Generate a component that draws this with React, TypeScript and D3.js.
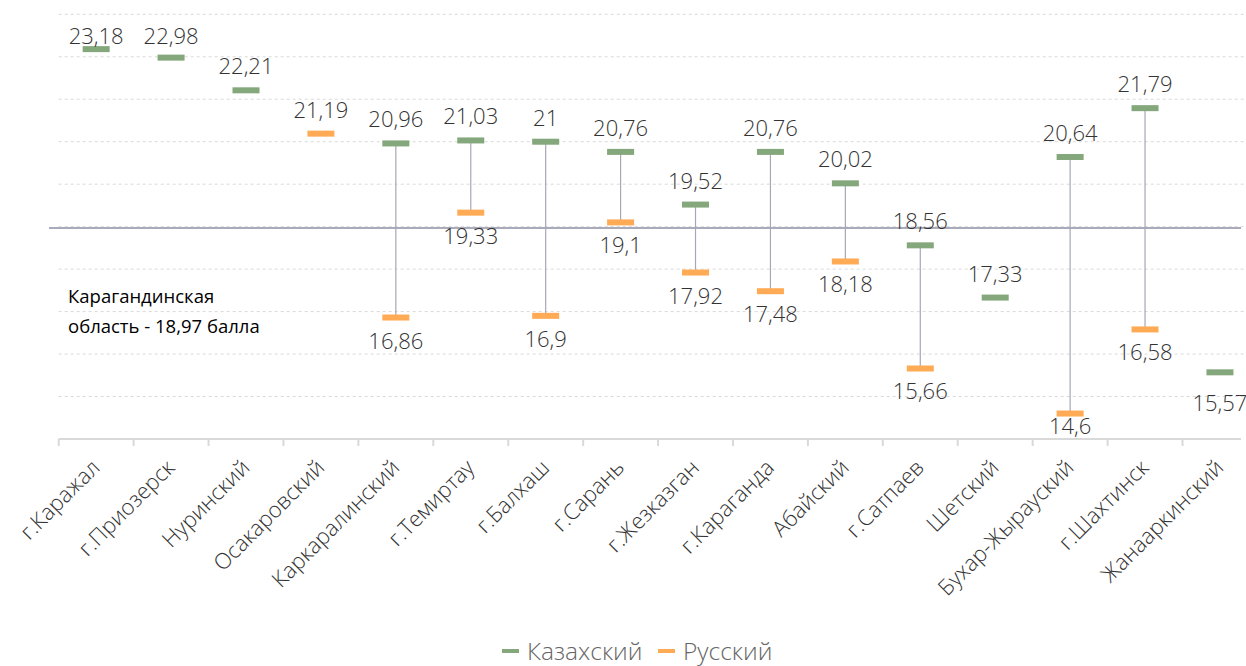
import React from "react";
import * as d3 from "d3";

const categories = [
  "г.Каражал",
  "г.Приозерск",
  "Нуринский",
  "Осакаровский",
  "Каркаралинский",
  "г.Темиртау",
  "г.Балхаш",
  "г.Сарань",
  "г.Жезказган",
  "г.Караганда",
  "Абайский",
  "г.Сатпаев",
  "Шетский",
  "Бухар-Жырауский",
  "г.Шахтинск",
  "Жанааркинский",
];

const kazakh: (number | null)[] = [
  23.18, 22.98, 22.21, null, 20.96, 21.03, 21, 20.76, 19.52, 20.76, 20.02, 18.56, 17.33, 20.64, 21.79, 15.57,
];

const russian: (number | null)[] = [
  null, null, null, 21.19, 16.86, 19.33, 16.9, 19.1, 17.92, 17.48, 18.18, 15.66, null, 14.6, 16.58, null,
];

const yTicks = [14, 15, 16, 17, 18, 19, 20, 21, 22, 23, 24];
const regionAverage = 18.97;
const annotationLines = ["Карагандинская", "область - 18,97 балла"];
const seriesNames = ["Казахский", "Русский"];
const kazakhLabelBelow = ["Жанааркинский"];

const GREEN = "#84a77b";
const ORANGE = "#ffaa55";
const FONT = "'Open Sans', 'Noto Sans', sans-serif";

export default function App() {
  const W = 1246;
  const H = 666;
  const x = d3
    .scaleBand<string>()
    .domain(categories)
    .range([58.7, 58.7 + 16 * 74.92])
    .padding(0);
  const y = d3.scaleLinear().domain([14, 24]).range([439, 14.3]);
  const fmt = (v: number) => String(v).replace(".", ",");
  const cx = (c: string) => (x(c) as number) + x.bandwidth() / 2;
  const axisEnd = 1241;

  const labelAbove = (v: number) => Math.max(y(v) - 16, 43.5);
  const labelBelow = (v: number) => Math.min(y(v) + 31, 434);

  return (
    <svg
      width={W}
      height={H}
      style={{ position: "absolute", left: 0, top: 0, background: "#fff" }}
      fontFamily={FONT}
    >
      {/* gridlines */}
      {yTicks
        .filter((t) => t !== 14)
        .map((t) => (
          <line
            key={"g" + t}
            x1={58.7}
            x2={W}
            y1={y(t)}
            y2={y(t)}
            stroke="#d9d9d9"
            strokeWidth={1}
            strokeDasharray="3,3"
          />
        ))}
      {/* x axis */}
      <line x1={58.7} x2={axisEnd} y1={y(14)} y2={y(14)} stroke="#d9d9d9" strokeWidth={2} />
      {d3.range(categories.length).map((i) => {
        const tx = x(categories[i]) as number;
        return (
          <line key={"t" + i} x1={tx} x2={tx} y1={y(14)} y2={y(14) + 7} stroke="#d9d9d9" strokeWidth={2} />
        );
      })}
      {/* reference line */}
      <line
        x1={49}
        x2={axisEnd}
        y1={y(regionAverage)}
        y2={y(regionAverage)}
        stroke="#a9abbb"
        strokeWidth={2}
      />
      {/* whiskers */}
      {categories.map((c, i) => {
        const k = kazakh[i];
        const r = russian[i];
        if (k == null || r == null) return null;
        return (
          <line key={"w" + i} x1={cx(c)} x2={cx(c)} y1={y(k)} y2={y(r)} stroke="#a5a8b5" strokeWidth={1.2} />
        );
      })}
      {/* markers */}
      {categories.map((c, i) => {
        const k = kazakh[i];
        const r = russian[i];
        return (
          <g key={"m" + i}>
            {k != null && <rect x={cx(c) - 13.5} y={y(k) - 3} width={27} height={6} fill={GREEN} />}
            {r != null && <rect x={cx(c) - 13.5} y={y(r) - 3} width={27} height={6} fill={ORANGE} />}
          </g>
        );
      })}
      {/* value labels */}
      {categories.map((c, i) => {
        const k = kazakh[i];
        const r = russian[i];
        const out: React.ReactNode[] = [];
        if (k != null) {
          const below = kazakhLabelBelow.includes(c);
          out.push(
            <text
              key="k"
              x={cx(c)}
              y={below ? labelBelow(k) + 8 : labelAbove(k)}
              textAnchor="middle"
              fontSize={22}
              fontWeight={300}
              fill="#333"
            >
              {fmt(k)}
            </text>
          );
        }
        if (r != null) {
          const above = k == null;
          out.push(
            <text
              key="r"
              x={cx(c)}
              y={above ? labelAbove(r) : labelBelow(r)}
              textAnchor="middle"
              fontSize={22}
              fontWeight={300}
              fill="#333"
            >
              {fmt(r)}
            </text>
          );
        }
        return <g key={"l" + i}>{out}</g>;
      })}
      {/* annotation */}
      {annotationLines.map((t, i) => (
        <text key={"a" + i} x={68} y={303 + i * 30} fontSize={18.5} fill="#000">
          {t}
        </text>
      ))}
      {/* category labels */}
      {categories.map((c) => (
        <text
          key={"c" + c}
          transform={`translate(${cx(c) + 5},${469}) rotate(-45)`}
          textAnchor="end"
          fontSize={22}
          fontWeight={300}
          fill="#333"
        >
          {c}
        </text>
      ))}
      {/* legend */}
      <g>
        <rect x={502} y={649} width={17} height={4} fill={GREEN} />
        <text x={527} y={660} fontSize={24.5} fontWeight={300} fill="#666">
          {seriesNames[0]}
        </text>
        <rect x={658} y={649} width={17} height={4} fill={ORANGE} />
        <text x={683} y={660} fontSize={24.5} fontWeight={300} fill="#666">
          {seriesNames[1]}
        </text>
      </g>
    </svg>
  );
}
